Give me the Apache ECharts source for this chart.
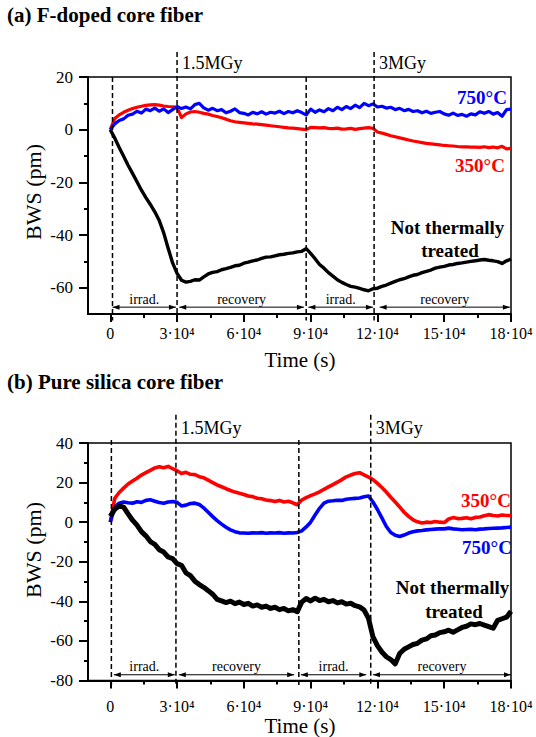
<!DOCTYPE html>
<html><head><meta charset="utf-8">
<script src="https://cdn.jsdelivr.net/npm/echarts@6/dist/echarts.min.js"></script>
<style>html,body{margin:0;padding:0;background:#fff}#c{width:536px;height:737px}
#c svg text{font-family:"Liberation Serif",serif !important}</style>
</head><body><div id="c"></div>
<script>
// ---------------- DATA ----------------
// Time in units of 10^3 s
const timeKs = [0,2,4,6,8,10,12,14,16,18,20,22,24,26,28,30,32,34,36,38,40,42,44,46,48,50,52,54,56,58,
  60,62,64,66,68,70,72,74,76,78,80,82,84,86,88,90,92,94,96,98,100,102,104,106,108,110,112,114,116,118,
  120,122,124,126,128,130,132,134,136,138,140,142,144,146,148,150,152,154,156,158,160,162,164,166,168,170,172,174,176,178,180];

// (a) F-doped core fiber, BWS (pm)
const a350 = [0,4.2,5.6,6.6,7.4,8.0,8.5,8.9,9.2,9.4,
  9.5,9.3,9.0,8.8,8.7,8.5,4.6,6.0,6.7,6.9,
  6.6,6.2,5.9,5.4,5.0,4.5,4.0,3.4,3.0,2.8,
  2.6,2.4,2.2,2.1,1.9,1.7,1.5,1.3,1.1,0.9,
  0.7,0.6,0.4,0.2,0.0,0.9,0.8,0.7,0.8,0.5,
  0.4,0.6,0.2,0.3,0.5,0.1,0.4,0.6,0.8,0.5,
  -0.9,-1.3,-1.8,-2.3,-2.7,-3.1,-3.5,-3.9,-4.3,-4.6,
  -4.9,-5.2,-5.4,-5.6,-5.8,-6.0,-6.1,-6.2,-6.4,-6.5,
  -6.5,-6.6,-6.6,-6.7,-6.5,-6.8,-6.6,-6.9,-6.3,-7.3,
  -7.1];
const a750 = [0,2.2,3.5,4.1,5.5,5.9,7.0,6.3,7.8,7.2,
  8.2,7.0,7.9,6.5,7.6,8.8,8.0,8.6,7.9,9.5,
  10.0,8.3,7.4,8.1,7.2,7.6,6.4,7.0,7.9,6.5,
  6.2,5.6,6.6,6.0,6.8,5.9,6.6,6.3,7.0,6.1,
  6.9,6.4,7.2,6.5,5.6,7.8,6.6,7.5,6.8,8.0,
  7.2,8.5,7.6,8.8,8.0,9.3,8.4,10.0,9.1,9.8,
  8.6,8.9,8.2,8.5,7.6,8.1,7.2,7.7,6.9,7.2,
  6.4,7.0,6.2,6.6,6.9,6.0,5.5,6.3,5.4,5.8,
  5.1,6.0,5.6,6.8,6.2,6.9,5.9,6.5,5.1,7.6,
  7.8];
const aUntreated = [0,-3.2,-6.8,-10.1,-13.5,-16.6,-19.8,-23.0,-25.8,-28.4,
  -31.2,-34.5,-39.2,-45.0,-50.6,-54.6,-57.2,-57.9,-57.6,-57.0,
  -57.1,-55.9,-54.8,-54.2,-53.9,-53.2,-52.8,-52.3,-51.7,-51.5,
  -50.7,-50.3,-49.8,-49.5,-48.9,-48.4,-48.3,-47.9,-47.5,-47.3,
  -47.0,-46.8,-46.4,-46.2,-45.2,-47.0,-49.0,-51.2,-52.6,-54.3,
  -55.6,-57.0,-58.0,-58.8,-59.5,-59.8,-60.3,-60.8,-61.2,-60.4,
  -60.2,-59.5,-59.0,-58.3,-57.6,-57.0,-56.6,-55.9,-55.3,-55.0,
  -54.3,-53.8,-53.3,-52.6,-52.2,-51.9,-51.4,-51.2,-50.8,-50.6,
  -50.3,-50.0,-49.8,-49.5,-49.3,-49.6,-49.8,-50.1,-50.8,-49.8,
  -49.2];

// (b) Pure silica core fiber, BWS (pm)
const b350 = [0,12.0,15.0,17.2,19.3,20.8,22.2,23.8,25.0,26.2,
  27.4,28.0,27.5,28.2,27.0,26.0,24.6,25.2,24.2,24.0,
  23.0,22.4,21.2,20.0,18.8,17.9,16.9,16.0,15.2,14.6,
  14.0,13.2,12.9,12.1,11.8,11.2,10.9,10.4,11.0,10.2,
  10.6,9.8,8.8,11.2,12.4,13.4,14.3,15.3,16.6,17.8,
  19.0,20.2,21.5,22.9,23.8,24.6,25.0,23.9,22.8,21.5,
  19.6,17.5,15.2,12.6,10.2,7.7,5.0,2.9,1.2,0.2,
  -0.4,0.0,-0.2,0.3,0.0,-0.2,1.6,2.3,1.8,1.9,
  2.2,1.7,2.4,2.6,3.2,3.8,3.4,3.1,3.6,3.4,
  3.4];
const b750 = [0,7.5,9.6,10.2,9.8,9.6,10.3,10.0,11.0,11.3,
  10.6,9.9,9.6,10.2,10.4,10.0,8.2,8.6,9.4,9.6,
  8.9,7.2,5.0,2.8,0.8,-1.0,-2.6,-3.9,-4.8,-5.4,
  -5.5,-5.6,-5.4,-5.5,-5.3,-5.6,-5.4,-5.5,-5.3,-5.6,
  -5.4,-5.5,-5.2,-4.4,-2.4,0.0,3.6,7.0,9.6,10.6,
  10.8,11.1,11.0,11.6,11.8,12.0,12.2,12.8,13.2,10.2,
  6.4,2.2,-2.2,-5.2,-6.6,-7.2,-6.5,-5.5,-4.8,-4.4,
  -4.2,-3.9,-3.7,-3.5,-3.3,-3.4,-3.0,-3.4,-3.6,-3.8,
  -3.7,-3.6,-3.8,-3.5,-3.4,-3.2,-3.1,-3.0,-2.9,-2.7,
  -2.5];
const bUntreated = [3.0,6.5,8.2,7.6,4.2,1.0,-1.5,-4.8,-6.9,-9.8,
  -11.2,-13.9,-15.1,-17.6,-18.4,-21.0,-21.8,-25.6,-27.0,-29.8,
  -31.5,-32.9,-34.6,-36.4,-39.0,-39.8,-40.6,-39.9,-41.2,-40.4,
  -41.6,-41.0,-42.4,-41.8,-43.0,-42.4,-43.6,-43.0,-44.2,-43.6,
  -44.8,-44.2,-45.2,-40.4,-38.6,-39.8,-38.4,-39.6,-39.0,-40.2,
  -39.6,-40.8,-40.2,-41.4,-41.0,-42.2,-42.8,-44.4,-48.6,-58.0,
  -62.4,-65.6,-68.0,-69.4,-71.6,-66.4,-64.2,-63.0,-61.8,-61.2,
  -59.6,-59.0,-57.4,-57.0,-55.8,-55.4,-54.6,-55.6,-54.4,-53.2,
  -52.6,-51.4,-51.8,-51.2,-52.0,-52.8,-53.6,-49.6,-48.8,-48.0,
  -45.0];

// Phase boundaries (10^3 s) and dose labels
const phaseA = [1, 30, 88, 118.5];
const phaseB = [0.5, 29.5, 84.7, 117];
const doseLabels = ['', '1.5MGy', '', '3MGy'];
// Phase arrows: start, end (10^3 s) and names
const arrowStartA = [1, 31, 89, 121];
const arrowEndA   = [29.5, 87, 118, 179.5];
const arrowStartB = [1.6, 30.8, 85.6, 118];
const arrowEndB   = [29, 82.6, 115, 180];
const arrowNames  = ['irrad.', 'recovery', 'irrad.', 'recovery'];

// Axis ticks
const xLabelTicks = [0, 30, 60, 90, 120, 150, 180];
const xMinorTicks = [15, 45, 75, 105, 135, 165];
const yLabelTicksA = [-60, -40, -20, 0, 20];
const yMinorTicksA = [-50, -30, -10, 10];
const yLabelTicksB = [-80, -60, -40, -20, 0, 20, 40];
const yMinorTicksB = [-70, -50, -30, -10, 10, 30];

// ---------------- CHART ----------------
const FF = 'Liberation Serif';
const chart = echarts.init(document.getElementById('c'), null, {renderer: 'svg'});

function xAxes(grid, margin) {
  return [{
    gridIndex: grid, type: 'value', min: -10, max: 180, position: 'bottom',
    axisLine: {onZero: false, lineStyle: {color: '#000', width: 2}},
    axisTick: {customValues: xLabelTicks, length: 8, lineStyle: {color: '#000', width: 2}},
    axisLabel: {customValues: xLabelTicks, margin: margin, color: '#000', fontFamily: FF, fontSize: 16,
      formatter: v => v === 0 ? '0' : (v / 10) + '·10⁴'},
    splitLine: {show: false}
  }, {
    gridIndex: grid, type: 'value', min: -10, max: 180, position: 'bottom',
    axisLine: {show: false, onZero: false},
    axisTick: {customValues: xMinorTicks, length: 4, lineStyle: {color: '#000', width: 2}},
    axisLabel: {show: false}, splitLine: {show: false}
  }];
}
function yAxes(grid, min, max, labels, minors) {
  return [{
    gridIndex: grid, type: 'value', min: min, max: max, position: 'left',
    axisLine: {show: true, onZero: false, lineStyle: {color: '#000', width: 2}},
    axisTick: {show: true, customValues: labels, length: 9, lineStyle: {color: '#000', width: 2}},
    axisLabel: {customValues: labels, margin: 15, color: '#000', fontFamily: FF, fontSize: 17},
    splitLine: {show: false}
  }, {
    gridIndex: grid, type: 'value', min: min, max: max, position: 'left',
    axisLine: {show: false, onZero: false},
    axisTick: {show: true, customValues: minors, length: 4, lineStyle: {color: '#000', width: 2}},
    axisLabel: {show: false}, splitLine: {show: false}
  }];
}
function lineSeries(xi, yi, values, color, width, z) {
  return {
    type: 'line', xAxisIndex: xi, yAxisIndex: yi, showSymbol: false, symbol: 'none',
    data: timeKs.map((t, i) => [t, values[i]]), z: z,
    lineStyle: {color: color, width: width, join: 'round'}, animation: false
  };
}
function vlineSeries(xi, yi, phases, tallTop, shortTop, bottom, labelOffset) {
  return {
    type: 'custom', xAxisIndex: xi, yAxisIndex: yi, clip: false, silent: true, z: 5,
    data: phases.map(t => [t, bottom]), animation: false,
    renderItem(params, api) {
      const t = api.value(0);
      const lab = doseLabels[params.dataIndex];
      const p1 = api.coord([t, lab ? tallTop : shortTop]);
      const p2 = api.coord([t, bottom]);
      const ch = [{type: 'line', shape: {x1: p1[0], y1: p1[1], x2: p2[0], y2: p2[1]},
        style: {stroke: '#000', lineWidth: 1.5, lineDash: [5, 3]}}];
      if (lab) ch.push({type: 'text', x: p1[0] + 5, y: p1[1] + labelOffset,
        style: {text: lab, fill: '#000', fontFamily: FF, fontSize: 18, align: 'left', verticalAlign: 'middle'}});
      return {type: 'group', children: ch};
    }
  };
}
function arrowSeries(xi, yi, starts, ends, level) {
  return {
    type: 'custom', xAxisIndex: xi, yAxisIndex: yi, clip: false, silent: true, z: 5,
    data: starts.map((s, i) => [s, ends[i]]), animation: false,
    renderItem(params, api) {
      const a = api.coord([api.value(0), level]);
      const b = api.coord([api.value(1), level]);
      const h = 7, w = 2.5;
      return {type: 'group', children: [
        {type: 'line', shape: {x1: a[0], y1: a[1], x2: b[0], y2: b[1]}, style: {stroke: '#000', lineWidth: 1}},
        {type: 'polygon', shape: {points: [[a[0], a[1]], [a[0] + h, a[1] - w], [a[0] + h, a[1] + w]]}, style: {fill: '#000'}},
        {type: 'polygon', shape: {points: [[b[0], b[1]], [b[0] - h, b[1] - w], [b[0] - h, b[1] + w]]}, style: {fill: '#000'}},
        {type: 'text', x: (a[0] + b[0]) / 2, y: a[1] - 8,
          style: {text: arrowNames[params.dataIndex], fill: '#000', fontFamily: FF, fontSize: 14, align: 'center', verticalAlign: 'middle'}}
      ]};
    }
  };
}
function txt(text, x, y, opts, rot) {
  return {type: 'text', x: x, y: y, rotation: rot || 0, style: Object.assign({text: text, fill: '#000',
    fontFamily: FF, fontSize: 18, align: 'center', verticalAlign: 'middle'}, opts || {})};
}
const B = {fontWeight: 'bold', fontSize: 19};

const option = {
  animation: false,
  backgroundColor: '#fff',
  textStyle: {fontFamily: FF},
  grid: [
    {left: 88, top: 77, width: 423, height: 237, show: true, borderColor: '#000', borderWidth: 1.5, backgroundColor: 'transparent'},
    {left: 88, top: 443, width: 423, height: 237.5, show: true, borderColor: '#000', borderWidth: 1.5, backgroundColor: 'transparent'}
  ],
  xAxis: [...xAxes(0, 11), ...xAxes(1, 18)],
  yAxis: [...yAxes(0, -70, 20, yLabelTicksA, yMinorTicksA), ...yAxes(1, -80, 40, yLabelTicksB, yMinorTicksB)],
  series: [
    lineSeries(0, 0, aUntreated, '#000', 3.4, 2),
    lineSeries(0, 0, a350, '#ff0000', 3.2, 3),
    lineSeries(0, 0, a750, '#0000ff', 3.2, 4),
    vlineSeries(0, 0, phaseA, 29.5, 20, -72.5, 11),
    arrowSeries(0, 0, arrowStartA, arrowEndA, -67.4),
    lineSeries(2, 2, b350, '#ff0000', 3.6, 2),
    lineSeries(2, 2, b750, '#0000ff', 3.6, 3),
    lineSeries(2, 2, bUntreated, '#000', 5, 4),
    vlineSeries(2, 2, phaseB, 54.3, 41.5, -82.5, 13),
    arrowSeries(2, 2, arrowStartB, arrowEndB, -77.1)
  ],
  graphic: [
    txt('(a) F-doped core fiber', 7, 15, {fontWeight: 'bold', fontSize: 21, align: 'left'}),
    txt('(b) Pure silica core fiber', 7, 382, {fontWeight: 'bold', fontSize: 21, align: 'left'}),
    txt('BWS (pm)', 33, 192, {fontSize: 22}, Math.PI / 2),
    txt('BWS (pm)', 33, 550, {fontSize: 22}, Math.PI / 2),
    txt('Time (s)', 300, 360, {fontSize: 21}),
    txt('Time (s)', 300, 726, {fontSize: 21}),
    txt('750°C', 482, 97, Object.assign({fill: '#0000ff'}, B)),
    txt('350°C', 480, 165, Object.assign({fill: '#ff0000'}, B)),
    txt('Not thermally', 447.5, 227, B),
    txt('treated', 450, 250, B),
    txt('350°C', 486, 500, Object.assign({fill: '#ff0000'}, B)),
    txt('750°C', 487, 547, Object.assign({fill: '#0000ff'}, B)),
    txt('Not thermally', 452.5, 587, B),
    txt('treated', 454, 611, B)
  ]
};
chart.setOption(option);
</script>
</body></html>
